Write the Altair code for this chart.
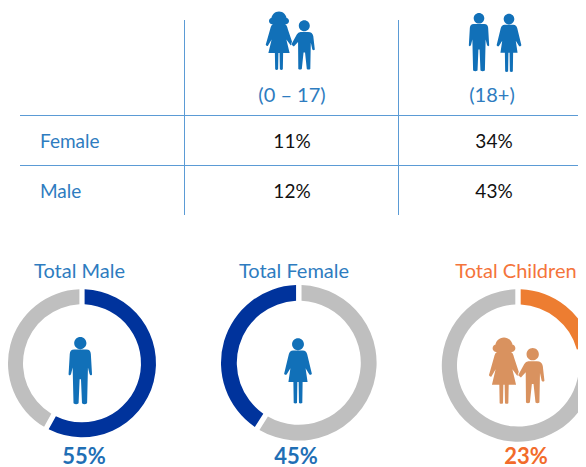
import altair as alt
import pandas as pd

# ---- values ----
age_groups = ["(0 – 17)", "(18+)"]
sexes = ["Female", "Male"]
female_cells = ["11%", "34%"]
male_cells = ["12%", "43%"]

donut_titles = ["Total Male", "Total Female", "Total Children"]
donut_labels = ["55%", "45%", "23%"]
# shares of the ring as drawn (seq order runs clockwise from 12 o'clock)
male_parts = ["highlight", "rest"]
male_shares = [58, 42]
female_parts = ["rest", "highlight"]
female_shares = [59, 41]
child_parts = ["accent", "rest"]
child_shares = [21.5, 78.5]

# ---- styling / layout ----
FONT = "Lato"
LINE = "#5B9BD5"
TEXT_BLUE = "#2E7CC0"
ICON_BLUE = "#1170B8"
ICON_ORANGE = "#D9925F"
DEEP_BLUE = "#00339C"
GREY = "#BFBFBF"
ORANGE = "#ED7D31"
M = 8  # page margin


def PX(v):
    return v - M


def one():
    return alt.Data(values=[{"a": 1}])


HEAD = lambda cx, cy, r: (
    f"M{cx-r} {cy}A{r} {r} 0 1 1 {cx+r} {cy}A{r} {r} 0 1 1 {cx-r} {cy}Z"
)

MAN = (
    "M-.18 -.63L.18 -.63Q.3 -.63 .31 -.5L.345 .1Q.3 .16 .27 .08L.225 -.1L.2 .95"
    "Q.12 1 .05 .95L.02 .24L-.02 .24L-.05 .95Q-.12 1 -.2 .95L-.225 -.1L-.27 .08"
    "Q-.3 .16 -.345 .1L-.31 -.5Q-.3 -.63 -.18 -.63Z" + HEAD(0, -.82, .18)
)
WOMAN = (
    "M-.15 -.62L.15 -.62Q.25 -.62 .28 -.5L.42 .08Q.38 .14 .34 .1L.23 -.08L.29 .33"
    "L.14 .33L.13 .97Q.08 1 .03 .97L.02 .33L-.02 .33L-.03 .97Q-.08 1 -.13 .97"
    "L-.14 .33L-.29 .33L-.23 -.08L-.34 .1Q-.38 .14 -.42 .08L-.28 -.5"
    "Q-.25 -.62 -.15 -.62Z" + HEAD(0, -.81, .18)
)
GIRL = (
    "M-.18 -.58L.18 -.58Q.27 -.56 .3 -.4L.44 .02L.4 .15L.25 -.05L.36 .41L.14 .41"
    "L.13 .96Q.08 1 .03 .96L.02 .41L-.02 .41L-.03 .96Q-.08 1 -.13 .96L-.14 .41"
    "L-.36 .41L-.25 -.05L-.38 .17Q-.42 .18 -.45 .13L-.3 -.4Q-.27 -.56 -.18 -.58Z"
    + HEAD(0, -.74, .26) + HEAD(-.23, -.68, .11) + HEAD(.23, -.68, .11)
)
BOY = (
    "M-.15 -.52L.15 -.52Q.33 -.52 .36 -.35L.42 .18Q.38 .24 .32 .18L.26 -.1L.24 .96"
    "Q.17 1 .1 .96L.03 .3L-.03 .3L-.1 .96Q-.17 1 -.24 .96L-.25 -.12L-.42 .06"
    "L-.52 -.02L-.3 -.42Q-.25 -.52 -.15 -.52Z" + HEAD(0, -.77, .22)
)


def icon(path, cx, cy, h, color):
    return (
        alt.Chart(one())
        .mark_point(shape=path, size=h ** 2, filled=True, color=color, opacity=1, strokeWidth=0)
        .encode(x=alt.value(PX(cx)), y=alt.value(PX(cy)))
    )


def rule_h(y, x1, x2):
    return (
        alt.Chart(one())
        .mark_rule(color=LINE, strokeWidth=1)
        .encode(x=alt.value(PX(x1)), x2=alt.value(PX(x2)), y=alt.value(PX(y)))
    )


def rule_v(x, y1, y2):
    return (
        alt.Chart(one())
        .mark_rule(color=LINE, strokeWidth=1)
        .encode(x=alt.value(PX(x)), y=alt.value(PX(y1)), y2=alt.value(PX(y2)))
    )


def label(txt, cx, cy, size, color, align="center", weight="normal"):
    return (
        alt.Chart(alt.Data(values=[{"t": txt}]))
        .mark_text(font=FONT, fontSize=size, color=color, align=align,
                   baseline="middle", fontWeight=weight)
        .encode(x=alt.value(PX(cx)), y=alt.value(PX(cy)), text="t:N")
    )


def donut(parts, shares, cx, cy, outer, inner):
    df = pd.DataFrame({"part": parts, "share": shares, "seq": range(len(parts))})
    return (
        alt.Chart(df)
        .mark_arc(radius=outer, radius2=inner, padAngle=0.055)
        .encode(
            x=alt.value(PX(cx)),
            y=alt.value(PX(cy)),
            theta=alt.Theta("share:Q", stack=True, scale=alt.Scale(domain=[0, 100])),
            color=alt.Color(
                "part:N",
                legend=None,
                scale=alt.Scale(domain=["highlight", "rest", "accent"],
                                range=[DEEP_BLUE, GREY, ORANGE]),
            ),
            order=alt.Order("seq:Q"),
        )
    )


cells = pd.DataFrame({
    "age": age_groups * 2,
    "sex": [sexes[0]] * 2 + [sexes[1]] * 2,
    "val": female_cells + male_cells,
})
x_cols = alt.Scale(type="point", domain=age_groups, range=[PX(292), PX(494)], padding=0)
y_rows = alt.Scale(type="point", domain=sexes, range=[PX(141.7), PX(191.7)], padding=0)

cell_text = (
    alt.Chart(cells)
    .mark_text(font=FONT, fontSize=19, color="#111111", baseline="middle")
    .encode(x=alt.X("age:N", scale=x_cols, axis=None),
            y=alt.Y("sex:N", scale=y_rows, axis=None), text="val:N")
)
row_text = (
    alt.Chart(pd.DataFrame({"sex": sexes}))
    .mark_text(font=FONT, fontSize=19, color=TEXT_BLUE, baseline="middle", align="left")
    .encode(x=alt.value(PX(40)), y=alt.Y("sex:N", scale=y_rows, axis=None), text="sex:N")
)

layers = [
    rule_h(115.5, 20, 586), rule_h(165.5, 20, 586),
    rule_v(184.5, 20, 215), rule_v(398.5, 20, 215),
    icon(GIRL, 279, 41, 59, ICON_BLUE), icon(BOY, 304.3, 45, 50, ICON_BLUE),
    icon(MAN, 479, 42.5, 59, ICON_BLUE), icon(WOMAN, 509, 43, 59, ICON_BLUE),
    label(age_groups[0], 292, 95.5, 20, TEXT_BLUE),
    label(age_groups[1], 492, 95.5, 20, TEXT_BLUE),
    row_text, cell_text,
    donut(male_parts, male_shares, 82, 363.3, 74, 59),
    donut(female_parts, female_shares, 298.8, 362.8, 77.8, 62),
    donut(child_parts, child_shares, 518, 365.5, 76.2, 61),
    icon(MAN, 80.3, 371, 68, ICON_BLUE),
    icon(WOMAN, 298, 371, 66, ICON_BLUE),
    icon(GIRL, 504, 371, 67, ICON_ORANGE),
    icon(BOY, 532.7, 375.7, 56, ICON_ORANGE),
    label(donut_titles[0], 79.5, 271.5, 20, TEXT_BLUE),
    label(donut_titles[1], 294, 271.5, 20, TEXT_BLUE),
    label(donut_titles[2], 516, 271.5, 20, "#F4743B"),
    label(donut_labels[0], 84, 457, 22, "#1F6FB5", weight="bold"),
    label(donut_labels[1], 296, 457, 22, "#1F6FB5", weight="bold"),
    label(donut_labels[2], 526, 457, 22, "#F26B2A", weight="bold"),
]

chart = (
    alt.layer(*layers)
    .resolve_scale(x="independent", y="independent")
    .properties(width=570, height=466, padding=0,
                autosize=alt.AutoSizeParams(type="none"),
                background="white")
    .configure_view(stroke=None)
)

chart.save("out.html", embed_options={"renderer": "svg", "actions": False})
